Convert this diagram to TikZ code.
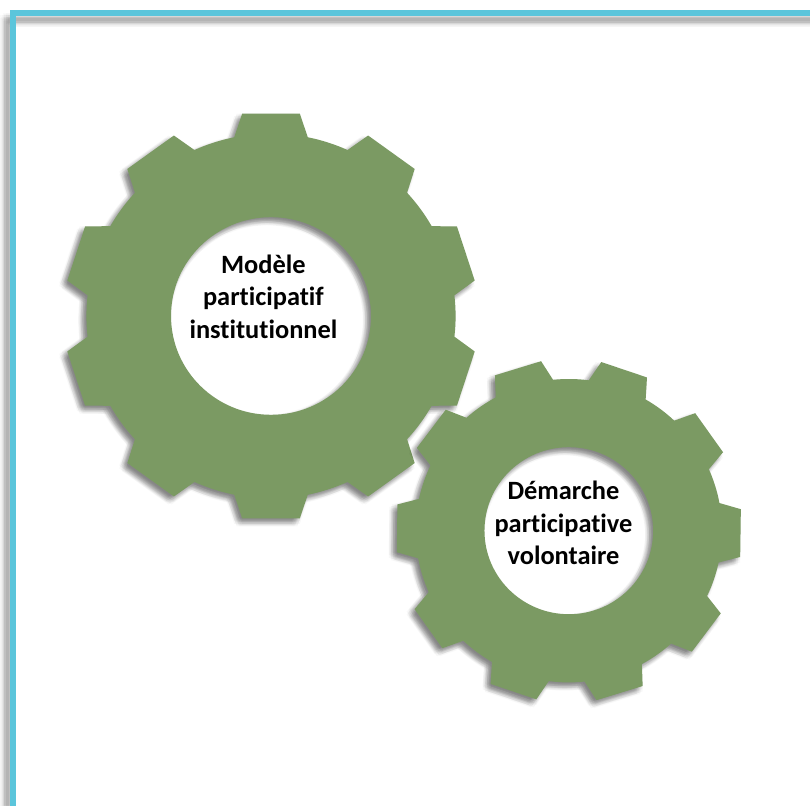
\documentclass[tikz,border=0pt]{standalone}
\usepackage{fontspec}
\setmainfont{Carlito}[Ligatures=NoCommon]
\definecolor{gearcol}{HTML}{7B9A63}
\definecolor{framecol}{HTML}{5BC5DB}
\tikzset{
  x=1pt,y=1pt,
  geartext/.style={font=\bfseries\fontsize{26.4}{32.5}\selectfont,align=center,text=black,inner sep=0pt},
  shadowlayer/.style={fill=black,fill opacity=0.028}
}
\newcommand{\blurset}{0/0,1.5/0,-1.5/0,0/1.5,0/-1.5,3/0,-3/0,0/3,0/-3,2.2/2.2,-2.2/2.2,2.2/-2.2,-2.2/-2.2,4/1.5,-4/1.5,4/-1.5,-4/-1.5,1.5/4,-1.5/4,1.5/-4,-1.5/-4}
\newcommand{\gearoutline}{%
  ({\gP-\gD}:\gR)
  \foreach \a in {0,36,...,324}{
    -- ({\gP+\a-\gE}:\gT) -- ({\gP+\a+\gE}:\gT) -- ({\gP+\a+\gD}:\gR)
    arc[start angle={\gP+\a+\gD},delta angle={36-2*\gD},radius=\gR]
  } -- cycle
  (\gH,0) arc[start angle=0,end angle=360,radius=\gH] -- cycle
}
\newcommand{\gearshape}[9]{%
  \def\gR{#4}\def\gT{#5}\def\gD{#6}\def\gE{#7}\def\gP{#8}\def\gH{#9}%
  \foreach \dx/\dy in \blurset {
    \begin{scope}[shift={(#1-4+\dx,805-#2-4+\dy)},xscale=#3]
      \path[shadowlayer,even odd rule] \gearoutline;
    \end{scope}
  }
  \begin{scope}[shift={(#1,805-#2)},xscale=#3]
    \path[fill=gearcol,even odd rule] \gearoutline;
  \end{scope}
}
\begin{document}
\begin{tikzpicture}
\useasboundingbox (0,0) rectangle (810,805);
\fill[white] (0,0) rectangle (810,805);
\clip (0,0) rectangle (810,805);
% frame shadow and frame
\foreach \dx/\dy in \blurset {
  \draw[black,draw opacity=0.02,line width=6,line join=miter] (7+\dx,-10) -- (7+\dx,785+\dy) -- (830,785+\dy);
}
\draw[framecol,line width=6,line join=miter] (13,-10) -- (13,792) -- (830,792);
% gears
\gearshape{271}{316}{1.012}{182.4}{204.4}{11.5}{8}{18}{98.8}
\gearshape{568.8}{530.7}{1.01}{151.7}{171.7}{11.3}{8}{-0.8}{83.5}
% labels
\node[geartext] (modele) at (263.4,805-296.5) {Modèle\\participatif\\institutionnel};
\node[geartext] (demarche) at (563.5,805-523) {Démarche\\participative\\volontaire};
\end{tikzpicture}
\end{document}
